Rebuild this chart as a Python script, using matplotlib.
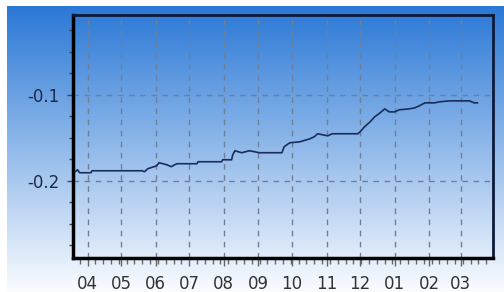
import numpy as np
import matplotlib
matplotlib.use("Agg")
import matplotlib.pyplot as plt
import matplotlib.dates as mdates
from datetime import datetime

dates = ["2013-03-21", "2013-03-23", "2013-03-25", "2013-04-04", "2013-04-05",
         "2013-05-20", "2013-05-22", "2013-05-25", "2013-06-02", "2013-06-04",
         "2013-06-11", "2013-06-15", "2013-06-18", "2013-06-20", "2013-07-08",
         "2013-07-09", "2013-07-30", "2013-07-31", "2013-08-08", "2013-08-09",
         "2013-08-11", "2013-08-17", "2013-08-24", "2013-09-02", "2013-09-11",
         "2013-09-22", "2013-09-24", "2013-09-29", "2013-10-08", "2013-10-17",
         "2013-10-21", "2013-10-24", "2013-11-02", "2013-11-06", "2013-11-29",
         "2013-12-01", "2013-12-05", "2013-12-10", "2013-12-14", "2013-12-19",
         "2013-12-23", "2013-12-27", "2014-01-01", "2014-01-05", "2014-01-14",
         "2014-01-19", "2014-01-23", "2014-01-28", "2014-02-06", "2014-02-10",
         "2014-02-19", "2014-03-09", "2014-03-13", "2014-03-16"]
values = [-0.1895, -0.1872, -0.1907, -0.1907, -0.1884,
          -0.1884, -0.1895, -0.1860, -0.1826, -0.1790,
          -0.1814, -0.1837, -0.1814, -0.1802, -0.1802,
          -0.1779, -0.1779, -0.1756, -0.1756, -0.1698,
          -0.1651, -0.1674, -0.1651, -0.1674, -0.1674,
          -0.1674, -0.1605, -0.1558, -0.1547, -0.1512,
          -0.1488, -0.1453, -0.1477, -0.1453, -0.1453,
          -0.1430, -0.1372, -0.1314, -0.1256, -0.1209,
          -0.1163, -0.1198, -0.1198, -0.1174, -0.1163,
          -0.1151, -0.1128, -0.1093, -0.1093, -0.1081,
          -0.1070, -0.1070, -0.1093, -0.1093]
y_ticks = [-0.2, -0.1]
y_tick_labels = ["-0.2", "-0.1"]

x = [datetime.strptime(d, "%Y-%m-%d") for d in dates]

W, H = 504, 292
fig = plt.figure(figsize=(W / 100, H / 100), dpi=100)
fig.patch.set_facecolor("white")

# gradient background
bg = fig.add_axes([7 / W, 0, 1 - 7 / W, 1 - 6 / H], zorder=0)
n = 256
t = np.linspace(0, 1, n)[:, None]
top = np.array([42, 120, 214]) / 255.0
bot = np.array([250, 252, 255]) / 255.0
grad = top[None, None, :] * (1 - t[:, :, None]) + bot[None, None, :] * t[:, :, None]
grad = np.repeat(grad, 4, axis=1)
bg.imshow(grad, aspect="auto", extent=[0, 1, 0, 1])
bg.set_axis_off()

ax = fig.add_axes([73 / W, 1 - 258 / H, (493 - 73) / W, (258 - 15) / H], zorder=1)
ax.patch.set_alpha(0)

ax.plot(x, values, color="#1a2d5c", lw=1.2, zorder=3)

ax.set_xlim(datetime(2013, 3, 19), datetime(2014, 3, 30))
ax.set_ylim(-0.29, -0.007)

ax.xaxis.set_major_locator(mdates.MonthLocator())
ax.xaxis.set_major_formatter(mdates.DateFormatter("%m"))
ax.xaxis.set_minor_locator(mdates.WeekdayLocator(byweekday=mdates.MO))
ax.set_yticks(y_ticks)
ax.set_yticklabels(y_tick_labels)
ax.yaxis.set_minor_locator(matplotlib.ticker.MultipleLocator(0.025))

ax.grid(True, which="major", color="#6f7f95", linestyle=(0, (4, 4)), lw=1.0)

for side in ["left", "bottom"]:
    ax.spines[side].set_color("black")
    ax.spines[side].set_linewidth(2.5)
for side in ["top", "right"]:
    ax.spines[side].set_color("#0d1a3a")
    ax.spines[side].set_linewidth(2.0)

ax.tick_params(axis="x", which="major", direction="out", length=6, width=1, color="#666666",
               pad=6, labelsize=12, labelcolor="#333333")
ax.tick_params(axis="x", which="minor", direction="out", length=4, width=1, color="#666666")
ax.tick_params(axis="y", which="major", direction="out", length=4, width=1, color="#444444",
               pad=6, labelsize=12, labelcolor="#1c2a4a")
ax.tick_params(axis="y", which="minor", direction="out", length=3, width=1, color="#444444")
for lab in ax.get_xticklabels() + ax.get_yticklabels():
    lab.set_fontfamily("DejaVu Sans")

fig.savefig("out.png", dpi=100)
